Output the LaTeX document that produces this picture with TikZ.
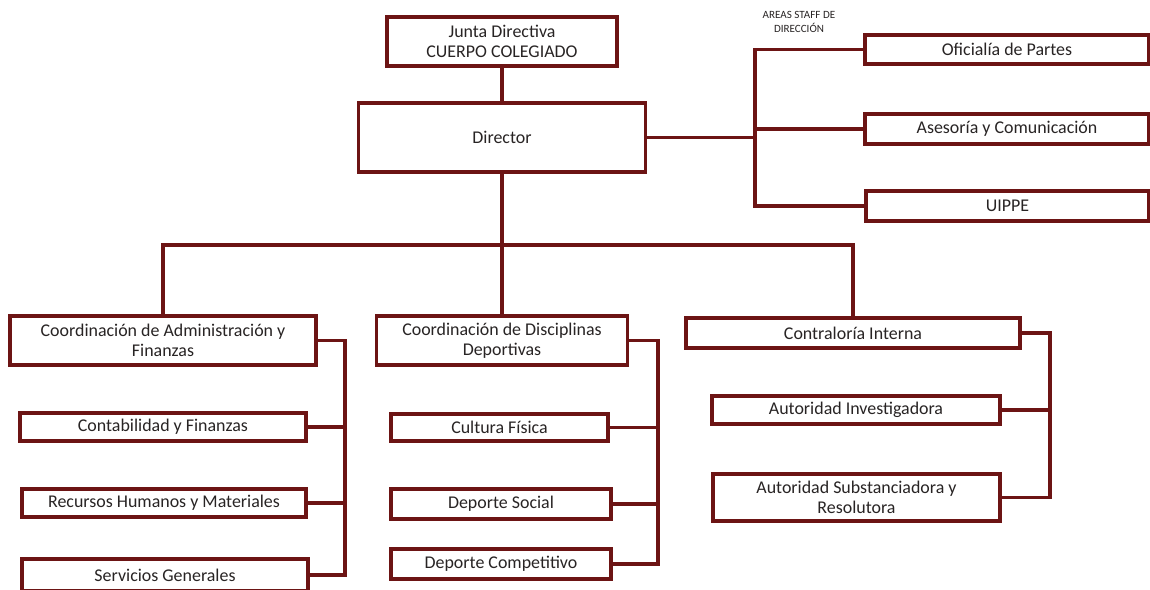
\documentclass[tikz,border=0pt]{standalone}
\usepackage{fontspec}
\setmainfont{Carlito}
\definecolor{boxred}{RGB}{108,20,20}
\definecolor{txtgray}{RGB}{40,36,36}

\begin{document}
\begin{tikzpicture}[x=0.02cm, y=-0.02cm,
    unit/.style={draw=boxred, line width=1.8pt, fill=white, text=txtgray,
                 align=center, font=\fontsize{10.2}{11.5}\selectfont, inner sep=1pt},
    tie/.style={draw=boxred, line width=2.1pt}]

   \useasboundingbox (0,0) rectangle (1150,589);

   \foreach \n/\x/\y/\w/\h/\t in {
       junta/502/41.5/230/49/Junta Directiva\\CUERPO COLEGIADO,
       dir/502/137.5/287/69/Director,
       ofi/1007/49.5/284/29/Oficialía de Partes,
       ase/1007/129/284/30/Asesoría y Comunicación,
       uip/1007.5/206/283/30/UIPPE,
       adm/163/340.5/306/49/Coordinación de Administración y\\Finanzas,
       dis/502/340.5/251/49/Coordinación de Disciplinas\\Deportivas,
       con/853/333/334/30/Contraloría Interna,
       caf/163/427/286/28/Contabilidad y Finanzas,
       rhm/164/503/284/28/Recursos Humanos y Materiales,
       sgr/165/575/286/32/Servicios Generales,
       cfi/499.5/427.5/217/27/Cultura Física,
       dso/501/504/220/30/Deporte Social,
       dco/501/564/220/30/Deporte Competitivo,
       ain/856/410/288/28/Autoridad Investigadora,
       asr/856.5/497.5/287/47/Autoridad Substanciadora y\\Resolutora}
     \node [unit, minimum width=\w*0.02cm, minimum height=\h*0.02cm]
        (\n) at (\x,\y) {\t};

   \node [text=txtgray, align=center, font=\fontsize{6.3}{7.5}\selectfont]
      (stafflbl) at (799,22) {AREAS STAFF DE\\DIRECCIÓN};

   % direccion y staff
   \coordinate (stf) at (755,137.5);
   \coordinate (bus) at (502,245);
   \draw [tie] (junta) -- (dir);
   \draw [tie] (dir.east) -- (stf);
   \draw [tie] (ofi.west) -| (stf) |- (uip.west);
   \draw [tie] (ase.west) -- (ase.west -| stf);

   % coordinaciones
   \draw [tie] (dir.south) -- (bus);
   \draw [tie] (adm.north) |- (bus) -| (con.north);
   \draw [tie] (dis.north) -- (dis.north |- bus);

   % areas de cada coordinacion
   \coordinate (admbar) at (345,340.5);
   \coordinate (disbar) at (658,340.5);
   \coordinate (conbar) at (1050,333);
   \draw [tie] (adm.east) -- (admbar) |- (sgr.east);
   \draw [tie] (dis.east) -- (disbar) |- (dco.east);
   \draw [tie] (con.east) -- (conbar) |- (asr.east);
   \foreach \i/\j in {caf/admbar, rhm/admbar, cfi/disbar, dso/disbar, ain/conbar}
       \draw [tie] (\i.east) -- (\i.east -| \j);

\end{tikzpicture}
\end{document}
